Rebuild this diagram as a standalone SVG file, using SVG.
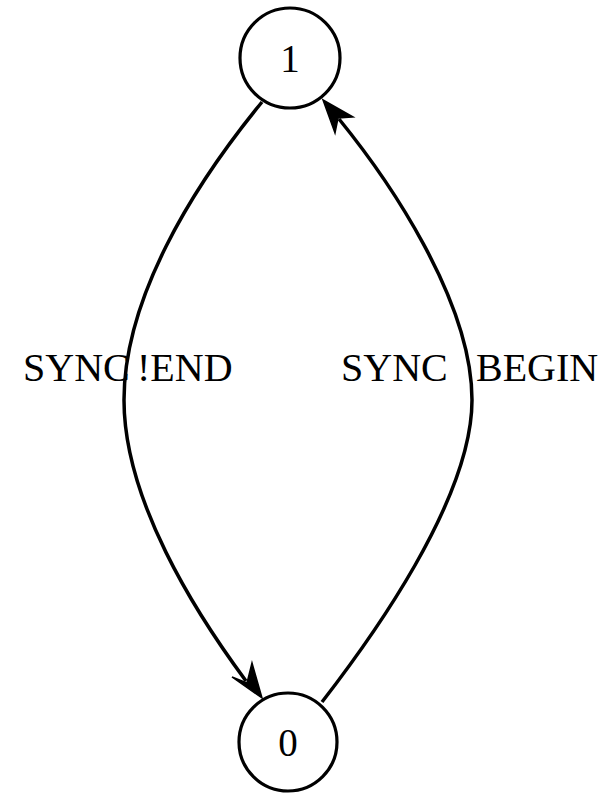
<svg xmlns="http://www.w3.org/2000/svg" width="610" height="793" viewBox="0 0 610 793">
<style>
.node{fill:#fff;stroke:#000;stroke-width:3.2}
.lbl{font-family:"Liberation Serif","Times New Roman",serif;font-size:40px;fill:#000}
.num{font-family:"Liberation Serif","Times New Roman",serif;font-size:39px;fill:#000;text-anchor:middle}
.edge{fill:none;stroke:#000;stroke-width:3.5}
.head{fill:#000;stroke:#000;stroke-width:1.5;stroke-linejoin:miter}
</style>
<rect width="610" height="793" fill="#fff"/>
<g id="connectors">
<path class="edge" d="M262,102 C190,190 124,300 124,400 C124,500 195,612 246,681"/>
<polygon class="head" points="262,698 232,677 247,683 252,663"/>
<path class="edge" d="M322,702 C370,640 472,500 472,400 C472,300 387,178 339,119"/>
<polygon class="head" points="323,100 353,117 338,118 335,133"/>
</g>
<g id="node1">
<circle class="node" cx="290" cy="58" r="50"/>
<text class="num" x="290" y="72">1</text>
</g>
<g id="node0">
<circle class="node" cx="288" cy="742" r="49"/>
<text class="num" x="288" y="756">0</text>
</g>
<g id="labels">
<text class="lbl" x="23" y="381">SYNC</text>
<text class="lbl" x="137" y="381">!END</text>
<text class="lbl" x="341" y="381">SYNC</text>
<text class="lbl" x="476" y="381">BEGIN</text>
</g>
</svg>
